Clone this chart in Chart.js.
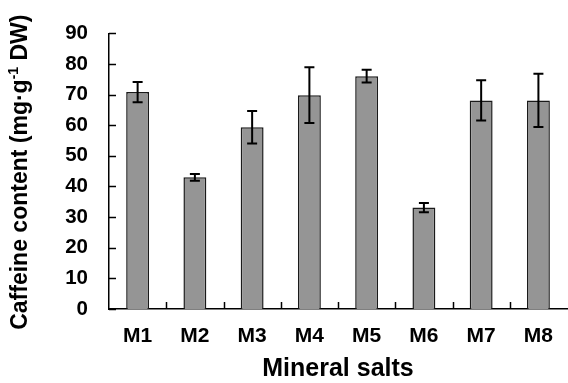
<!DOCTYPE html>
<html>
<head>
<meta charset="utf-8">
<script src="https://cdn.jsdelivr.net/npm/chart.js@4"></script>
<style>
html,body{margin:0;padding:0;background:#fff;}
#wrap{width:568px;height:383px;}
</style>
</head>
<body>
<div id="wrap"><canvas id="c" width="568" height="383"></canvas></div>
<script>
const categories = ['M1','M2','M3','M4','M5','M6','M7','M8'];
const caffeine = [70.8, 43.0, 59.3, 69.8, 76.0, 33.1, 68.1, 68.1];
const errors = [3.3, 1.1, 5.3, 9.1, 2.1, 1.5, 6.6, 8.7];
const yTicks = [0,10,20,30,40,50,60,70,80,90];
const FONT = "'Liberation Sans', Arial, Helvetica, sans-serif";

const extras = {
  id: 'extras',
  afterDatasetsDraw(chart) {
    const ctx = chart.ctx;
    const x = chart.scales.x, y = chart.scales.y;
    ctx.save();
    ctx.strokeStyle = '#000';
    ctx.lineWidth = 2;
    caffeine.forEach((v, i) => {
      const px = x.getPixelForValue(i);
      const top = y.getPixelForValue(v + errors[i]);
      const bot = y.getPixelForValue(v - errors[i]);
      ctx.beginPath();
      ctx.moveTo(px, top); ctx.lineTo(px, bot);
      ctx.moveTo(px - 5, top); ctx.lineTo(px + 5, top);
      ctx.moveTo(px - 5, bot); ctx.lineTo(px + 5, bot);
      ctx.stroke();
    });
    ctx.lineWidth = 1.5;
    yTicks.forEach(t => {
      const py = Math.round(y.getPixelForValue(t)) + 0.5;
      ctx.beginPath();
      ctx.moveTo(x.left, py); ctx.lineTo(x.left + 7, py);
      ctx.stroke();
    });
    for (let i = 1; i < categories.length; i++) {
      const px = Math.round(x.getPixelForValue(i - 0.5)) + 0.5;
      ctx.beginPath();
      ctx.moveTo(px, y.bottom); ctx.lineTo(px, y.bottom - 7);
      ctx.stroke();
    }
    const cx = 21, cy = (y.top + y.bottom) / 2 + 1;
    const big = 'bold 23px ' + FONT, small = 'bold 14px ' + FONT;
    const p1 = 'Caffeine content (mg·g', p2 = '-1', p3 = ' DW)';
    ctx.font = big; const w1 = ctx.measureText(p1).width, w3 = ctx.measureText(p3).width;
    ctx.font = small; const w2 = ctx.measureText(p2).width;
    const total = w1 + w2 + w3;
    ctx.translate(cx, cy);
    ctx.rotate(-Math.PI / 2);
    ctx.fillStyle = '#000';
    ctx.textBaseline = 'middle';
    ctx.textAlign = 'left';
    let sx = -total / 2;
    ctx.font = big; ctx.fillText(p1, sx, 0); sx += w1;
    ctx.font = small; ctx.fillText(p2, sx, -7); sx += w2;
    ctx.font = big; ctx.fillText(p3, sx, 0);
    ctx.restore();
  }
};

new Chart(document.getElementById('c'), {
  type: 'bar',
  data: {
    labels: categories,
    datasets: [{
      data: caffeine,
      backgroundColor: '#959595',
      borderColor: '#1a1a1a',
      borderWidth: 1.5,
      barPercentage: 0.4,
      categoryPercentage: 1.0
    }]
  },
  options: {
    responsive: false,
    animation: false,
    devicePixelRatio: 1,
    layout: { padding: { top: 19, right: 0, left: 0, bottom: 0 } },
    plugins: { legend: { display: false }, tooltip: { enabled: false } },
    scales: {
      x: {
        offset: true,
        grid: { display: false, drawTicks: false },
        border: { display: true, color: '#000', width: 1.5 },
        ticks: { color: '#000', font: { family: FONT, size: 21, weight: 'bold' }, padding: 15, maxRotation: 0 },
        title: { display: true, text: 'Mineral salts', color: '#000', font: { family: FONT, size: 25, weight: 'bold', lineHeight: 1 }, padding: { top: 0, bottom: 1 } },
        afterFit(s) { s.height = 74; }
      },
      y: {
        min: 0, max: 90,
        afterBuildTicks(s) { s.ticks = yTicks.map(v => ({ value: v })); },
        grid: { display: false, drawTicks: false },
        border: { display: true, color: '#000', width: 1.5 },
        ticks: { color: '#000', font: { family: FONT, size: 20.5, weight: 'bold' }, padding: 21 },
        afterFit(s) { s.width = 109; }
      }
    }
  },
  plugins: [extras]
});
</script>
</body>
</html>
